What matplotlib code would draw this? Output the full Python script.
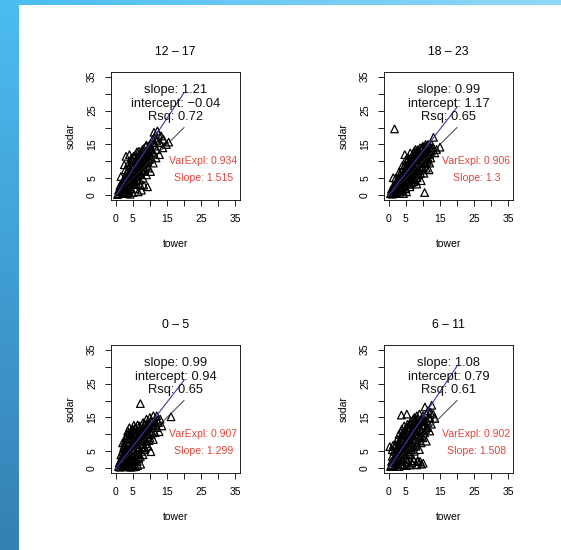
import numpy as np
import matplotlib
matplotlib.use('Agg')
import matplotlib.pyplot as plt

plt.rcParams['font.family'] = ['Liberation Sans', 'DejaVu Sans']

# 
# Panel titles and fit numbers
titles = ['12 \u2013 17', '18 \u2013 23', '0 \u2013 5', '6 \u2013 11']
lm_slope = [1.21, 0.99, 0.99, 1.08]
lm_icpt = [-0.04, 1.17, 0.94, 0.79]
lm_rsq = [0.72, 0.65, 0.65, 0.61]
pc_varexpl = ['0.934', '0.906', '0.907', '0.902']
pc_slope = ['1.515', '1.3', '1.299', '1.508']

# 
# tower / sodar points
pts_12_17 = [(0.5,0.2),(0.8,1.5),(1.0,0.5),(1.2,2.8),(1.5,1.0),(1.7,3.5),(2.0,0.8),(2.0,2.2),(2.2,4.5),
    (2.5,1.5),(2.5,3.0),(2.8,5.5),(3.0,2.0),(3.0,4.0),(3.2,6.5),(3.3,0.5),(3.5,3.0),(3.5,5.0),(3.7,7.8),
    (3.8,1.5),(4.0,4.2),(4.0,6.0),(4.2,9.0),(4.3,2.5),(4.5,5.2),(4.5,7.0),(4.7,10.5),(4.8,3.5),(5.0,0.8),
    (5.0,6.0),(5.0,8.2),(5.2,11.5),(5.3,4.5),(5.5,6.8),(5.5,9.0),(5.7,2.0),(5.8,12.0),(6.0,5.5),(6.0,7.5),
    (6.0,10.0),(6.2,3.2),(6.3,11.2),(6.5,6.5),(6.5,8.5),(6.8,13.0),(7.0,4.5),(7.0,7.0),(7.0,9.5),(7.2,11.8),
    (7.5,1.5),(7.5,8.0),(7.5,10.5),(7.8,13.5),(8.0,5.0),(8.0,9.0),(8.0,11.0),(8.2,3.0),(8.5,7.5),(8.5,10.0),
    (8.5,12.5),(8.8,14.5),(9.0,6.0),(9.0,9.5),(9.0,11.5),(9.3,2.5),(9.5,8.0),(9.5,13.0),(9.8,10.5),(10.0,12.0),
    (10.0,15.0),(10.2,7.0),(10.5,11.0),(10.5,13.5),(10.8,16.5),(11.0,9.5),(11.0,12.5),(11.3,14.5),(11.5,17.0),
    (11.8,11.0),(12.0,13.5),(12.0,16.0),(12.5,18.0),(12.8,12.0),(13.0,15.5),(13.3,17.5),(13.8,14.0),(14.0,16.5),
    (12.2,19.0),(3.0,11.5),(2.5,9.0),(1.5,5.5),(4.0,12.0),
    (1.0,1.2),(1.3,2.0),(1.8,2.5),(2.2,3.2),(2.7,3.8),(3.2,4.5),(3.6,4.2),(4.0,5.2),(4.4,6.0),(4.8,6.5),
    (5.2,7.0),(5.6,7.6),(6.0,8.5),(6.4,9.0),(6.8,9.8),(7.2,10.2),(7.6,10.8),(8.0,11.5),(8.4,11.8),(8.8,12.2),
    (9.2,12.8),(9.6,13.5),(10.0,14.0),(1.6,3.0),(2.4,4.0),(3.4,5.8),(4.2,7.2),(5.0,8.8),(5.8,10.2),(6.6,11.5),
    (7.4,12.5),(8.2,13.8),(9.0,14.8),(2.8,2.0),(3.8,3.0),(4.6,4.0),(5.4,5.0),(6.2,6.0),(7.0,6.2),(7.8,7.0),
    (8.6,8.5),(9.4,9.8),(6.4,4.5),(5.6,3.2),(4.4,1.8),(3.6,1.0),(2.6,0.5),(4.2,0.3),(6.6,1.0),(7.2,3.0),
    (5.0,10.0),(3.8,9.5),(4.6,11.0),(2.8,7.5),(6.2,12.8),(5.2,4.0),(7.8,9.5),(9.8,11.8),(10.8,13.0),(11.2,15.5),
    (11.2,18.6),(15.5,15.7),(14.8,15.0)]
pts_18_23 = [(0.5,0.5),(0.8,1.8),(1.0,0.3),(1.2,2.5),(1.3,5.2),(1.5,1.2),(1.7,19.6),(1.8,3.0),(2.0,0.8),
    (2.0,2.2),(2.2,4.0),(2.5,1.5),(2.5,3.0),(2.7,5.0),(3.0,0.5),(3.0,2.5),(3.0,4.0),(3.2,6.0),(3.5,1.5),
    (3.5,3.5),(3.5,5.0),(3.7,7.0),(4.0,2.5),(4.0,4.5),(4.0,6.0),(4.2,8.0),(4.3,0.5),(4.5,3.5),(4.5,5.5),
    (4.5,7.0),(4.7,12.0),(4.8,9.0),(5.0,2.0),(5.0,4.5),(5.0,6.5),(5.0,8.0),(5.3,10.0),(5.5,3.5),(5.5,5.5),
    (5.5,7.5),(5.5,9.0),(5.8,11.0),(6.0,4.5),(6.0,6.5),(6.0,8.5),(6.0,10.0),(6.2,2.5),(6.3,12.5),(6.5,5.5),
    (6.5,7.5),(6.5,9.5),(6.5,11.0),(6.8,3.8),(7.0,6.5),(7.0,8.5),(7.0,10.5),(7.0,12.0),(7.3,5.0),(7.5,7.5),
    (7.5,9.5),(7.5,11.5),(7.5,13.0),(7.8,4.5),(8.0,6.5),(8.0,8.5),(8.0,10.5),(8.0,12.5),(8.2,3.3),(8.5,7.5),
    (8.5,9.5),(8.5,11.5),(8.5,13.5),(8.8,6.0),(9.0,8.5),(9.0,10.5),(9.0,12.5),(9.2,14.0),(9.5,4.3),(9.5,7.5),
    (9.5,9.5),(9.5,11.5),(9.5,13.5),(10.0,8.5),(10.0,10.5),(10.0,12.5),(10.0,14.5),(10.3,6.5),(10.5,0.8),
    (10.5,9.5),(10.5,11.5),(10.5,13.5),(11.0,8.0),(11.0,10.5),(11.0,12.5),(11.0,14.5),(11.5,11.0),(11.5,13.0),
    (11.5,15.0),(12.0,12.0),(12.0,14.0),(12.5,13.0),(12.5,15.0),(13.0,14.0),(13.1,17.1),(13.5,12.5),
    (14.0,13.5),(15.0,14.2),(12.0,9.5),(11.8,7.5),
    (1.0,1.5),(1.5,2.2),(2.0,3.0),(2.5,3.8),(3.0,3.2),(3.5,4.5),(4.0,5.2),(4.5,4.5),(5.0,5.8),(5.5,6.5),
    (6.0,7.5),(6.5,8.5),(7.0,7.8),(7.5,8.5),(8.0,9.5),(8.5,10.5),(9.0,11.5),(9.5,10.5),(10.0,11.5),(10.5,12.5),
    (11.0,13.5),(11.5,12.0),(12.0,13.0),(12.5,14.0),(1.2,0.8),(1.8,1.5),(2.3,2.6),(2.8,4.3),(3.3,5.2),(3.8,5.8),
    (4.3,6.8),(4.8,7.5),(5.3,8.5),(5.8,9.5),(6.3,10.5),(6.8,11.5),(7.3,12.5),(7.8,13.5),(3.8,2.2),(4.8,3.0),
    (5.8,4.0),(6.8,5.0),(7.8,6.0),(8.8,7.2),(9.8,8.0),(10.8,9.5),(6.3,3.2),(7.3,4.0),(8.3,5.2),(9.3,6.5),
    (11.3,10.0),(12.3,11.0),(2.2,1.0),(3.2,1.8),(4.2,1.5),(5.2,1.0),(8.8,13.0),(9.8,14.0),(10.8,15.0),(3.0,6.8),
    (4.0,8.8),(5.0,10.5),(2.0,5.0)]
pts_0_5 = [(0.8,0.5),(1.0,1.5),(1.2,0.3),(1.5,2.5),(1.5,1.0),(1.8,3.5),(2.0,0.5),(2.0,2.0),(2.0,5.0),
    (2.3,6.0),(2.5,1.5),(2.5,3.5),(2.5,7.5),(2.8,4.5),(3.0,0.5),(3.0,2.5),(3.0,6.0),(3.0,9.0),(3.3,10.0),
    (3.5,1.5),(3.5,4.0),(3.5,7.0),(3.5,11.0),(3.8,5.5),(4.0,0.8),(4.0,3.0),(4.0,8.5),(4.0,12.0),(4.3,6.5),
    (4.5,2.0),(4.5,4.5),(4.5,10.0),(4.8,7.5),(5.0,1.0),(5.0,3.5),(5.0,9.0),(5.0,11.5),(5.3,12.7),(5.5,2.5),
    (5.5,5.5),(5.5,8.0),(5.5,10.5),(5.8,0.5),(6.0,4.0),(6.0,7.0),(6.0,9.5),(6.0,12.0),(6.3,2.0),(6.5,5.5),
    (6.5,8.5),(6.5,11.0),(6.8,3.0),(7.0,7.0),(7.0,10.0),(7.0,12.5),(7.2,19.1),(7.3,1.2),(7.5,5.0),(7.5,8.5),
    (7.5,11.0),(8.0,4.0),(8.0,7.0),(8.0,9.5),(8.0,12.0),(8.5,6.0),(8.5,10.5),(8.5,13.0),(9.0,8.0),(9.0,11.5),
    (9.0,14.5),(9.5,6.5),(9.5,10.0),(9.5,13.0),(10.0,9.0),(10.0,12.0),(10.0,15.0),(10.3,4.9),(10.5,11.0),
    (10.5,14.0),(11.0,8.5),(11.0,12.5),(11.0,15.5),(11.5,10.5),(11.5,14.0),(12.0,12.0),(12.0,15.5),
    (12.7,10.8),(12.5,13.5),(13.0,14.5),(13.5,12.5),(16.2,15.2),(1.5,4.0),(2.0,7.5),
    (1.2,1.8),(1.8,2.2),(2.2,3.0),(2.6,2.8),(3.0,3.8),(3.4,4.8),(3.8,4.2),(4.2,5.2),(4.6,5.8),(5.0,6.5),
    (5.4,7.0),(5.8,7.8),(6.2,8.2),(6.6,9.2),(7.0,9.0),(7.4,9.8),(7.8,10.5),(8.2,11.0),(8.6,11.8),(9.0,12.5),
    (9.4,11.8),(9.8,13.5),(3.2,7.8),(3.6,8.8),(4.2,9.8),(4.6,11.2),(5.2,10.2),(5.6,11.8),(6.4,12.8),(2.8,5.2),
    (2.4,6.5),(3.8,10.5),(4.4,2.8),(4.8,1.5),(5.2,2.2),(5.6,3.8),(6.0,2.8),(6.6,4.2),(7.2,3.5),(7.6,6.2),
    (8.2,5.5),(8.8,7.2),(9.2,9.2),(9.8,8.2),(10.4,10.0),(10.8,12.8),(11.2,13.5),(11.8,13.0),(12.2,14.2),
    (4.4,0.3),(5.2,0.4),(6.4,0.8),(3.4,0.4),(2.6,0.8),(6.8,6.0),(7.8,8.0),(8.4,9.0),(7.2,11.5),(8.0,13.5),
    (9.2,10.0)]
pts_6_11 = [(0.3,6.4),(1.3,6.8),(0.5,0.5),(0.8,2.0),(1.0,1.0),(1.0,3.5),(1.5,0.5),(1.5,2.5),(1.5,5.0),
    (2.0,1.5),(2.0,4.0),(2.0,7.0),(2.5,0.5),(2.5,3.0),(2.5,5.5),(2.5,8.5),(3.0,2.0),(3.0,4.5),(3.0,7.0),
    (3.0,10.0),(3.5,1.0),(3.5,3.5),(3.5,6.0),(3.5,9.0),(3.7,15.7),(3.8,11.5),(4.0,2.5),(4.0,5.0),(4.0,8.0),
    (4.0,10.5),(4.5,1.0),(4.5,4.0),(4.5,7.0),(4.5,9.5),(4.5,12.5),(5.0,3.0),(5.0,6.0),(5.0,8.5),(5.0,11.0),
    (5.3,16.0),(5.5,1.8),(5.5,5.0),(5.5,7.5),(5.5,10.0),(5.5,13.0),(6.0,4.0),(6.0,6.5),(6.0,9.0),(6.0,12.0),
    (6.2,1.0),(6.5,5.5),(6.5,8.0),(6.5,10.5),(6.5,14.0),(7.0,3.0),(7.0,7.0),(7.0,9.5),(7.0,12.0),(7.5,5.0),
    (7.5,8.5),(7.5,11.0),(7.5,15.0),(8.0,6.5),(8.0,10.0),(8.0,13.0),(8.2,1.0),(8.5,2.3),(8.5,8.0),(8.5,11.5),
    (8.5,14.5),(9.0,5.5),(9.0,9.5),(9.0,12.5),(9.0,16.0),(9.5,7.5),(9.5,11.0),(9.5,14.0),(10.0,9.0),
    (10.0,12.5),(10.0,15.5),(10.1,1.5),(10.5,10.5),(10.5,14.0),(10.6,18.1),(11.0,8.0),(11.0,12.0),(11.0,16.0),
    (11.5,13.5),(11.5,17.0),(12.0,11.0),(12.0,15.0),(12.6,18.6),(12.5,13.0),(13.0,16.0),(13.5,14.7),(8.5,2.0),
    (0.8,0.8),(1.2,1.8),(1.6,2.0),(2.0,2.8),(2.4,3.8),(2.8,4.0),(3.2,4.8),(3.6,5.2),(4.0,6.0),(4.4,6.5),
    (4.8,7.2),(5.2,7.8),(5.6,8.5),(6.0,8.2),(6.4,9.5),(6.8,10.2),(7.2,10.8),(7.6,11.5),(8.0,12.0),(8.4,12.8),
    (8.8,13.5),(9.2,13.8),(9.6,14.5),(10.0,14.0),(2.2,5.5),(2.8,6.5),(3.2,8.0),(3.8,9.0),(4.2,10.0),(4.8,11.0),
    (5.2,12.0),(5.8,11.5),(6.2,13.0),(6.8,13.5),(7.2,14.5),(7.8,14.0),(8.2,15.5),(3.4,2.2),(4.2,3.2),(5.0,4.2),
    (5.8,4.8),(6.6,6.0),(7.4,6.5),(8.2,7.5),(8.8,9.0),(9.4,9.2),(10.2,10.5),(10.8,11.5),(11.4,12.0),(5.2,0.8),
    (6.8,1.5),(7.4,2.2),(9.2,2.0),(9.6,1.2),(3.0,0.5),(4.0,1.2),(11.8,14.8),(12.2,16.5),(2.0,6.5),(1.0,5.5)]
points = [pts_12_17, pts_18_23, pts_0_5, pts_6_11]

# 
# Figure, with the slide's blue frame
W, H = 561, 550
fig = plt.figure(figsize=(W/100, H/100), dpi=100)
ax_bg = fig.add_axes([0, 0, 18/W, 1])
ax_bg.imshow(np.linspace(0, 1, 100).reshape(-1, 1), cmap=matplotlib.colors.LinearSegmentedColormap.from_list('l', ['#4cbcf0', '#3580b4']), aspect='auto')
ax_bg.axis('off')
ax_top = fig.add_axes([0, 1-5/H, 1, 5/H])
ax_top.imshow(np.linspace(0, 1, 100).reshape(1, -1), cmap=matplotlib.colors.LinearSegmentedColormap.from_list('t', ['#48bcf0', '#70cbf4', '#90d8f8']), aspect='auto')
ax_top.axis('off')

# axes boxes in pixels: left, top, right, bottom
boxes = [(111, 72, 240, 200), (384, 72, 513, 200), (111, 345, 240, 473), (384, 345, 513, 473)]

for i in range(4):
    l, t, r, b = boxes[i]
    ax = fig.add_axes([l/W, 1-b/H, (r-l)/W, (b-t)/H])
    xy = np.array(points[i])
    ax.scatter(xy[:,0], xy[:,1], marker='^', s=30, facecolors='none', edgecolors='black', linewidths=0.9, zorder=2)
    xx = np.array([0, 20])
    ax.plot(xx, xx, color='#222222', lw=0.6, zorder=3)
    ax.plot(xx, float(pc_slope[i])*xx, color='#3a3aa8', lw=0.8, zorder=3)
    ax.text(17.5, 31, 'slope: %.2f' % lm_slope[i], ha='center', va='center', fontsize=9.3, color='#111111')
    ax.text(17.5, 27, 'intercept: %s' % ('%.2f' % lm_icpt[i]).replace('-', '\u2212'), ha='center', va='center', fontsize=9.3, color='#111111')
    ax.text(17.5, 23, 'Rsq: %.2f' % lm_rsq[i], ha='center', va='center', fontsize=9.3, color='#111111')
    ax.text(25.7, 10, 'VarExpl: ' + pc_varexpl[i], ha='center', va='center', fontsize=7.6, color='#e0453c')
    ax.text(25.7, 5, 'Slope: ' + pc_slope[i], ha='center', va='center', fontsize=7.6, color='#e0453c')
    ax.set_xlim(-1.4, 36.4)
    ax.set_ylim(-1.4, 36.4)
    ticks = np.arange(0, 36, 5)
    labs = ['0', '5', '', '15', '', '25', '', '35']
    ax.set_xticks(ticks)
    ax.set_xticklabels(labs, fontsize=7.5)
    ax.set_yticks(ticks)
    ax.set_yticklabels(labs, fontsize=7.5, rotation=90, va='center')
    ax.tick_params(length=4, width=0.6, pad=6)
    for s in ax.spines.values():
        s.set_linewidth(0.6)
    ax.set_title(titles[i], fontsize=8.7, pad=12)
    ax.set_xlabel('tower', fontsize=7.5, labelpad=11)
    ax.set_ylabel('sodar', fontsize=7.5, labelpad=8)

fig.savefig('out.png', dpi=100)
